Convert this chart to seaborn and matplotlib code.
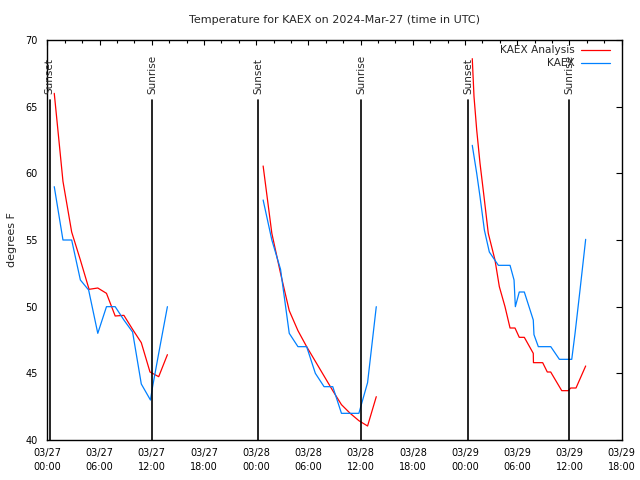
import numpy as np
import pandas as pd
import matplotlib
matplotlib.use("Agg")
import matplotlib.pyplot as plt
import matplotlib.dates as mdates
from matplotlib.lines import Line2D
import seaborn as sns

# ---------------- data (hours after 2024-03-27 00:00 UTC, degrees F) ----------------
start = pd.Timestamp("2024-03-27 00:00")

ana1_h = [0.8, 1.8, 2.8, 3.8, 4.8, 5.8, 6.8, 7.8, 8.8, 9.8, 10.8, 11.8, 12.8, 13.8]
ana1_t = [66.0, 59.4, 55.6, 53.5, 51.3, 51.4, 51.0, 49.3, 49.35, 48.3, 47.3, 45.1, 44.75, 46.4]
ana2_h = [24.8, 25.8, 26.8, 27.8, 28.8, 29.8, 30.8, 31.8, 32.8, 33.8, 34.8, 35.8, 36.8, 37.8]
ana2_t = [60.55, 55.5, 52.5, 49.7, 48.2, 47.0, 45.9, 44.8, 43.7, 42.65, 42.0, 41.45, 41.05, 43.25]
ana3_h = [48.83, 49.03, 49.34, 49.72, 50.18, 50.67, 51.44, 51.94, 52.59, 53.17, 53.74, 54.23,
          54.81, 55.84, 55.86, 56.92, 57.45, 57.84, 59.11, 59.86, 60.14, 60.75, 61.86]
ana3_t = [68.6, 65.75, 63.25, 60.75, 58.25, 55.5, 53.5, 51.5, 50.0, 48.4, 48.4, 47.7,
          47.7, 46.5, 45.8, 45.8, 45.1, 45.1, 43.7, 43.7, 43.9, 43.9, 45.55]

obs1_h = [0.8, 1.8, 2.8, 3.8, 4.75, 5.8, 6.8, 7.8, 8.8, 9.8, 10.8, 11.85, 12.1, 12.8, 13.8]
obs1_t = [59.0, 55.0, 55.0, 52.0, 51.25, 48.0, 50.0, 50.0, 49.0, 48.1, 44.2, 43.0, 44.0, 46.5, 50.0]
obs2_h = [24.8, 25.8, 26.8, 27.8, 28.8, 29.8, 30.8, 31.8, 32.8, 33.8, 34.8, 35.8, 36.8, 37.8]
obs2_t = [58.0, 55.0, 52.8, 48.0, 47.0, 47.0, 45.0, 44.0, 44.0, 42.0, 42.0, 42.0, 44.3, 50.0]
obs3_h = [48.83, 49.34, 49.72, 50.22, 50.79, 51.83, 53.17, 53.63, 53.78, 54.23, 54.81, 55.84,
          55.92, 56.42, 57.85, 58.84, 60.26, 60.64, 61.21, 61.86]
obs3_t = [62.1, 60.0, 58.25, 55.75, 54.1, 53.1, 53.1, 52.0, 50.0, 51.1, 51.1, 49.0,
          47.9, 47.0, 47.0, 46.05, 46.05, 48.0, 51.25, 55.05]

sunset_h = [0.28, 24.25, 48.37]
sunrise_h = [12.07, 36.05, 59.98]

series_labels = ["KAEX Analysis", "KAEX"]
series_colors = ["#ff0000", "#0080ff"]
title = "Temperature for KAEX on 2024-Mar-27 (time in UTC)"


def frame(segs):
    rows = []
    for i, (hh, tt) in enumerate(segs):
        rows.append(pd.DataFrame({"time": start + pd.to_timedelta(hh, unit="h"),
                                  "temp": tt, "seg": i}))
    return pd.concat(rows, ignore_index=True)


ana = frame([(ana1_h, ana1_t), (ana2_h, ana2_t), (ana3_h, ana3_t)])
obs = frame([(obs1_h, obs1_t), (obs2_h, obs2_t), (obs3_h, obs3_t)])

# ---------------- plot ----------------
sns.set_style("white")
plt.rcParams["font.family"] = ["DejaVu Sans"]

fig = plt.figure(figsize=(6.4, 4.8), dpi=100)
ax = fig.add_axes([47.3 / 640, 40 / 480, 574.4 / 640, 400 / 480])

sns.lineplot(data=ana, x="time", y="temp", units="seg", estimator=None, sort=False,
             color=series_colors[0], lw=0.9, ax=ax, legend=False)
sns.lineplot(data=obs, x="time", y="temp", units="seg", estimator=None, sort=False,
             color=series_colors[1], lw=0.9, ax=ax, legend=False)

for h in sunset_h:
    t = start + pd.Timedelta(hours=h)
    ax.plot([t, t], [40, 65.5], color="black", lw=1.2)
    ax.text(t, 65.95, "Sunset", rotation=90, ha="center", va="bottom", fontsize=7.5)
for h in sunrise_h:
    t = start + pd.Timedelta(hours=h)
    ax.plot([t, t], [40, 65.5], color="black", lw=1.2)
    ax.text(t, 65.95, "Sunrise", rotation=90, ha="center", va="bottom", fontsize=7.5)

ax.set_xlim(start, start + pd.Timedelta(hours=66))
ax.set_ylim(40, 70)
ax.set_yticks([40, 45, 50, 55, 60, 65, 70])
ax.xaxis.set_major_locator(mdates.HourLocator(byhour=[0, 6, 12, 18]))
ax.xaxis.set_minor_locator(mdates.HourLocator(byhour=list(range(0, 24, 2))))
ax.xaxis.set_major_formatter(mdates.DateFormatter("%m/%d\n%H:%M"))

ax.tick_params(axis="both", which="both", direction="in", top=True, right=True,
               colors="black", labelsize=7.0, width=0.8)
ax.tick_params(axis="x", which="major", length=3.6, pad=6)
ax.tick_params(axis="x", which="minor", length=2.2)
ax.tick_params(axis="y", which="major", length=4.5, pad=7)
for lab in ax.get_xticklabels():
    lab.set_linespacing(1.4)

for sp in ax.spines.values():
    sp.set_visible(True)
    sp.set_color("black")
    sp.set_linewidth(1.0)

ax.set_xlabel("")
ax.set_ylabel("degrees F", fontsize=8.0)
ax.yaxis.set_label_coords(-0.052, 0.5)
ax.set_title(title, fontsize=8.0, pad=12)

# legend (gnuplot style: text then sample line)
leg_y = [0.974, 0.942]
for lab, col, yy in zip(series_labels, series_colors, leg_y):
    ax.text(0.9187, yy, lab, transform=ax.transAxes, ha="right", va="center", fontsize=7.6)
    ax.add_line(Line2D([0.929, 0.980], [yy, yy], transform=ax.transAxes, color=col, lw=0.9))

fig.savefig("out.png", dpi=100)
